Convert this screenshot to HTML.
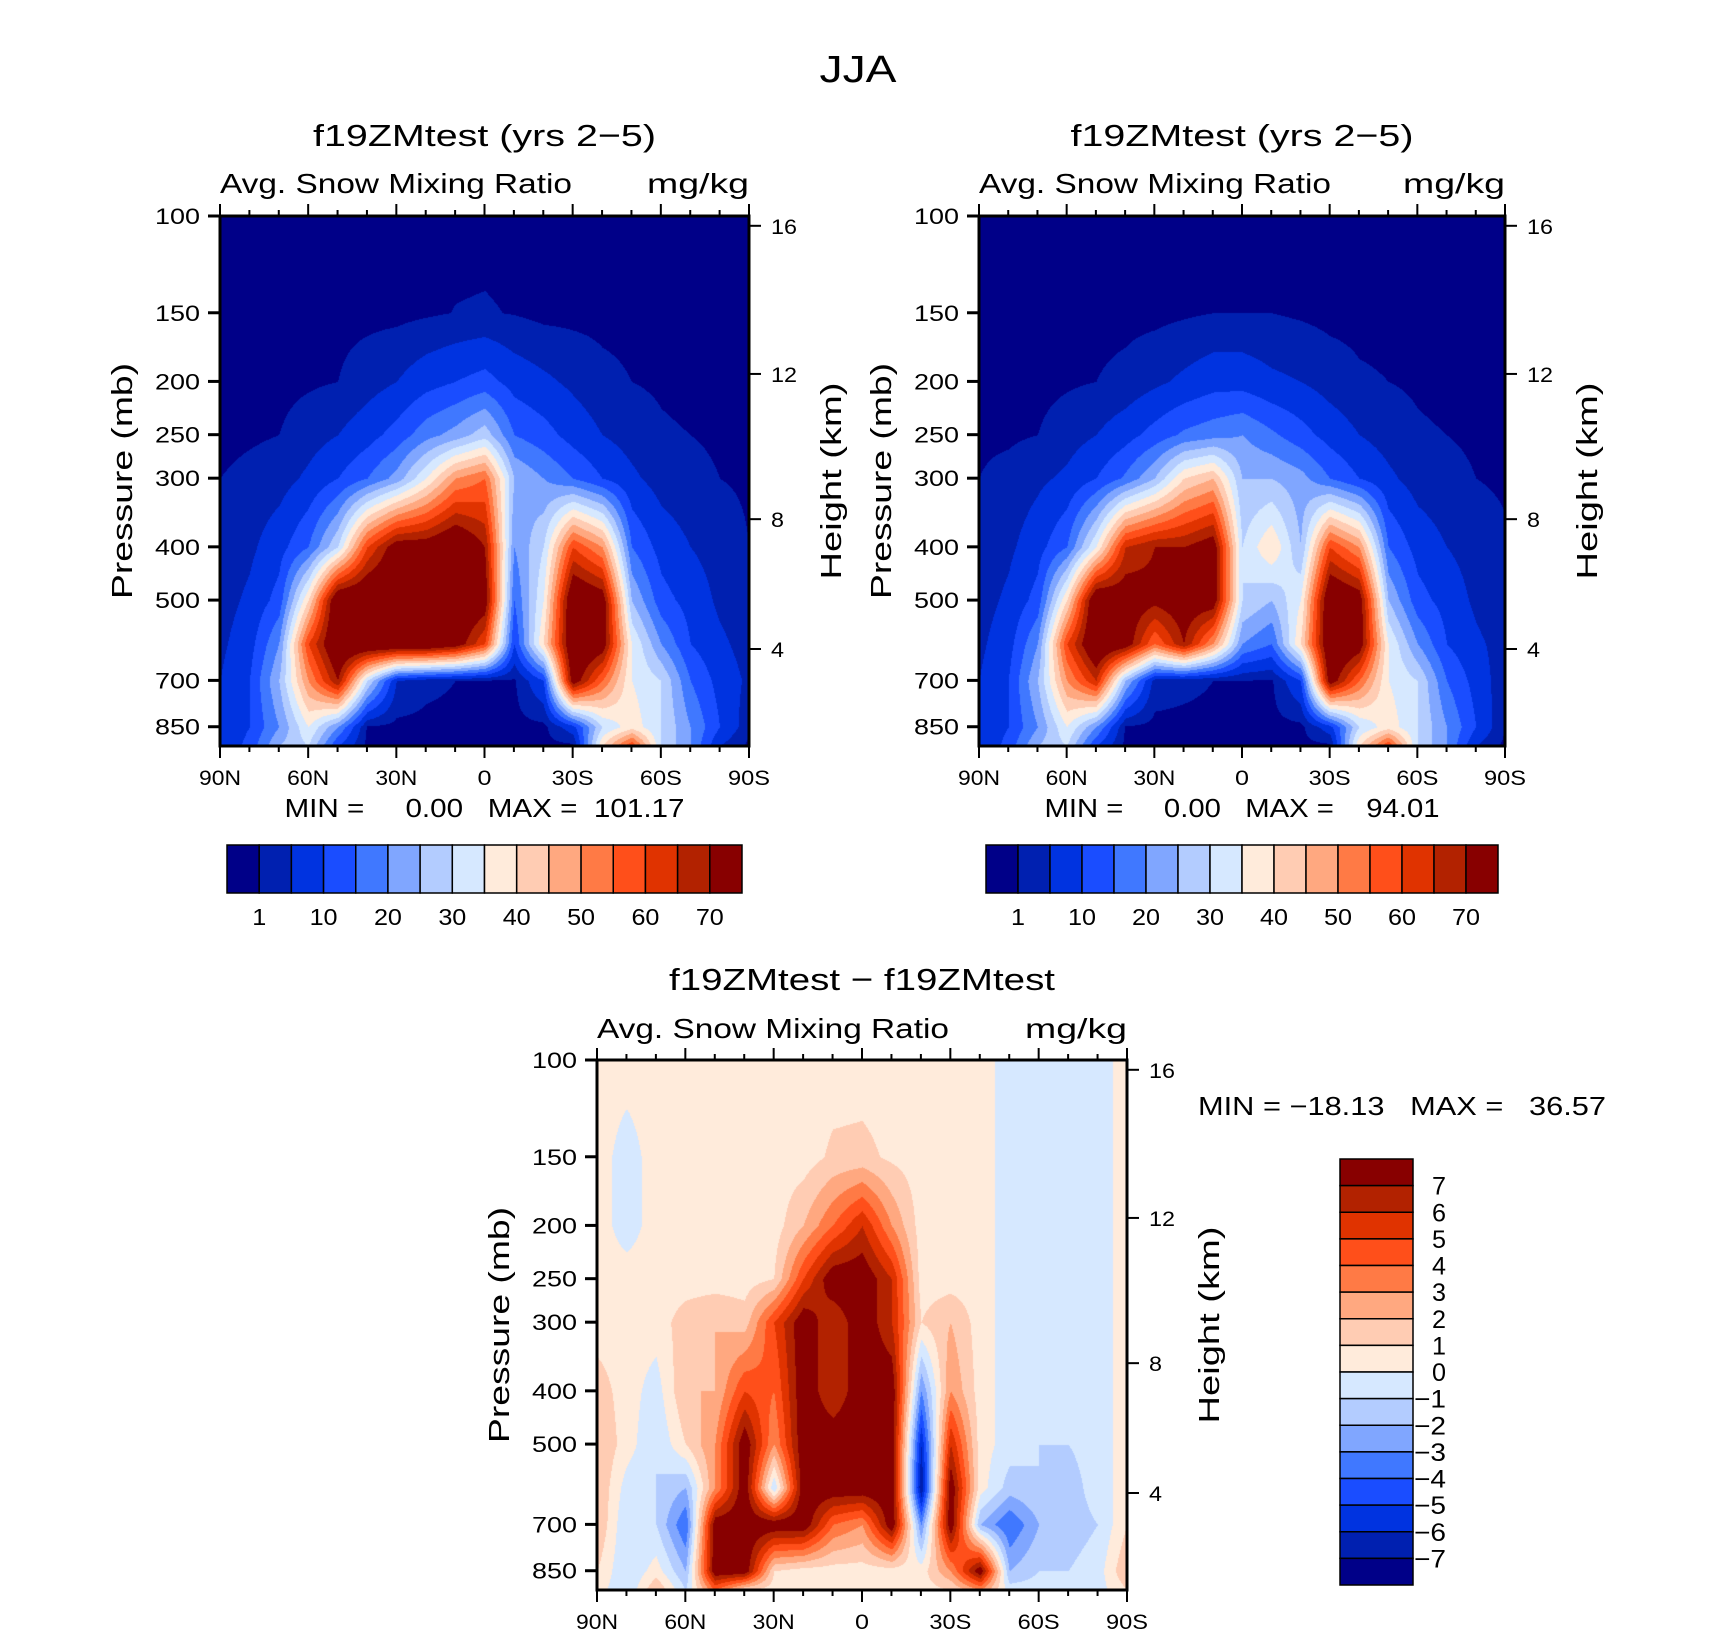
<!DOCTYPE html>
<html><head><meta charset="utf-8">
<style>
html,body{margin:0;padding:0;background:#fff;}
#root{position:relative;width:1710px;height:1639px;overflow:hidden;font-family:"Liberation Sans",sans-serif;}
canvas{position:absolute;}
svg{position:absolute;left:0;top:0;}
text{white-space:pre;}
</style></head><body>
<div id="root">
<canvas id="c1"></canvas>
<canvas id="c2"></canvas>
<canvas id="c3"></canvas>
<svg id="ov" width="1710" height="1639"></svg>
</div>
<script>
// ---- data ----
const lats = [90,80,70,60,50,40,30,20,10,0,-10,-20,-30,-40,-50,-60,-70,-80,-90];
const levels = [100,150,200,250,300,400,500,600,700,850,920];
const field1 = [
[0,0,0,0,0,0,0,0,0,0,0,0,0,0,0,0,0,0,0],
[0,0,0,0,0,0,0,0.5,1.1,1.3,0.8,0,0,0,0,0,0,0,0],
[0,0,0,0.5,1,3,5,8,10,12,8,6,4,2,1,0.5,0,0,0],
[0,0.5,1,3,5,8,12,18,22,28,15,12,8,5,3,1.5,1,0.5,0.3],
[1,2,3,6,10,15,22,35,50,55,25,20,15,10,6,3,2,1,0.5],
[2,4,8,15,30,60,75,75,80,70,20,30,60,50,15,8,5,3,1],
[3,6,12,40,80,80,80,80,80,75,15,35,80,75,25,12,8,4,2],
[4,8,20,60,80,80,80,80,75,60,10,40,80,75,35,20,10,6,3],
[5,10,25,50,70,30,5,2,1,0.5,0.5,10,75,55,35,30,15,8,4],
[5,10,20,35,20,0.5,0,0,0,0,0,0,8,30,38,30,20,10,2],
[5,12,25,30,10,0,0,0,0,0,0,0,0,40,60,30,20,5,0]];
const field2 = [
[0,0,0,0,0,0,0,0,0,0,0,0,0,0,0,0,0,0,0],
[0,0,0,0,0,0,0,0.5,1,1,1,0.5,0,0,0,0,0,0,0],
[0,0,0,0.5,1,2,4,6,8,8,6,5,3,1.5,1,0.5,0,0,0],
[0.5,0.5,1,3,5,8,12,16,18,20,16,12,8,5,3,1.5,1,0.5,0.3],
[1,2,4,6,10,16,25,40,45,25,25,22,15,10,6,3,2,1,0.5],
[2,4,8,15,35,65,70,70,75,30,40,25,60,50,15,8,5,3,1.5],
[3,6,12,40,80,75,72,75,75,30,25,35,80,75,25,12,8,4,1.5],
[4,8,20,60,80,75,55,70,50,20,15,40,80,75,35,20,10,6,3],
[5,10,25,50,65,25,3,2,1,1,0.5,10,75,55,35,30,15,8,2],
[5,10,20,35,20,0.5,0,0,0,0,0,0,8,30,38,30,20,10,1],
[5,12,25,30,10,0,0,0,0,0,0,0,0,40,60,30,20,5,0]];
const field3 = [
[0.5,0.5,0.5,0.5,0.5,0.5,0.5,0.5,0.5,0.5,0.5,0.5,0.5,0.5,-0.5,-0.5,-0.5,-0.5,0.5],
[0.5,-0.5,0.5,0.5,0.5,0.5,0.5,0.5,1.2,1.3,0.8,0.5,0.5,0.5,-0.5,-0.5,-0.5,-0.5,0.5],
[0.5,-0.5,0.5,0.5,0.5,0.5,0.5,2,4,6,3,0.5,0.5,0.5,-0.5,-0.5,-0.5,-0.5,0.5],
[0.5,0.5,0.5,0.5,0.5,0.5,1,5,8,8,6,0.5,0.5,0.5,-0.5,-0.5,-0.5,-0.5,0.5],
[0.5,0.5,0.5,1.5,2,1.5,5,8,6,8,6,1,2,0.5,-0.5,-0.5,-0.5,-0.5,0.5],
[1.5,0.5,-0.5,2,2,5,4,8,6,8,8,-3,3,0.5,-0.5,-0.5,-0.5,-0.5,0.5],
[2,0.5,-1,1,3,8,3,8,8,8,8,-6,6,0.5,-0.5,-1,-1,-0.5,0.5],
[2,-0.5,-1,-2,3,8,-1,8,8,8,8,-7,8,0.5,-1.5,-1,-1.5,-0.5,0.5],
[2,-1,-1,-4,8,8,8,8,4,3,8,-3,8,-2,-4,-2,-1.5,-1,1],
[1,-1,0.5,-2,8,8,1,0.5,0.5,0.5,0.5,0.5,3,8,-2,-1,-1,-0.5,2],
[0.5,-1,2,-1,4,1,0.5,0.5,0.5,0.5,0.5,0.5,1,3,-0.5,-0.5,-1,-0.5,1]];
const absLevels = [1,5,10,15,20,25,30,35,40,45,50,55,60,65,70];
const absLabels = ['1','10','20','30','40','50','60','70'];
const diffLevels = [-7,-6,-5,-4,-3,-2,-1,0,1,2,3,4,5,6,7];
const pTicks = [100,150,200,250,300,400,500,700,850];
const zTicks = [16,12,8,4];
const xTickLabels = ['90N','60N','30N','0','30S','60S','90S'];
const colors = ['#000088','#0020b0','#0033e0','#1a4dff','#4078ff','#80a6ff','#b3ccff','#d6e8ff','#ffebdb','#ffccb3','#ffa880','#ff7a45','#ff4f1a','#e03300','#b22200','#880000'];

// ---- geometry ----
const panels = [
 {cv:'c1',x0:220,x1:749,y0:216,y1:746,data:field1,lv:absLevels,mm:'MIN =     0.00   MAX =  101.17',mmLen:400,name:'control'},
 {cv:'c2',x0:979,x1:1505,y0:216,y1:746,data:field2,lv:absLevels,mm:'MIN =     0.00   MAX =    94.01',mmLen:395,name:'test'},
 {cv:'c3',x0:597,x1:1127,y0:1060,y1:1590,data:field3,lv:diffLevels,mm:null,name:'difference'}];
const K=240*530/533;
function yP(P,p){return P.y0+K*Math.log(p/100);}
const zFrac = {16:0.0185,12:0.298,8:0.572,4:0.817};
function yZ(P,z){return P.y0+zFrac[z]*(P.y1-P.y0);}
function xL(P,lat){return P.x0+(90-lat)/180*(P.x1-P.x0);}
function lvIdx(v,lv){let i=0;while(i<lv.length&&v>=lv[i])i++;return i;}
function sample(P,lat,p){
  let fi=(90-lat)/10; let i0=Math.min(17,Math.floor(fi)); let fx=fi-i0;
  let lp=Math.log(p); let j0=0;
  for(let j=0;j<levels.length-1;j++){if(lp>=Math.log(levels[j]))j0=j;}
  let fy=(lp-Math.log(levels[j0]))/(Math.log(levels[j0+1])-Math.log(levels[j0]));
  fy=Math.max(0,Math.min(1,fy));
  const d=P.data;
  const a=d[j0][i0]*(1-fx)+d[j0][i0+1]*fx;
  const b=d[j0+1][i0]*(1-fx)+d[j0+1][i0+1]*fx;
  return a*(1-fy)+b*fy;
}
function hex(c){return [parseInt(c.slice(1,3),16),parseInt(c.slice(3,5),16),parseInt(c.slice(5,7),16)];}
const rgb=colors.map(hex);
panels.forEach(P=>{
  const cv=document.getElementById(P.cv);
  const w=P.x1-P.x0,h=P.y1-P.y0;
  cv.width=w;cv.height=h;cv.style.left=P.x0+'px';cv.style.top=P.y0+'px';
  const ctx=cv.getContext('2d');const im=ctx.createImageData(w,h);
  for(let y=0;y<h;y++){const p=100*Math.exp(y/K);
    for(let x=0;x<w;x++){const lat=90-x/w*180;
      const c=rgb[lvIdx(sample(P,lat,p),P.lv)];const k=(y*w+x)*4;
      im.data[k]=c[0];im.data[k+1]=c[1];im.data[k+2]=c[2];im.data[k+3]=255;}}
  ctx.putImageData(im,0,0);
});

// ---- overlay ----
const ov=document.getElementById('ov');const NS='http://www.w3.org/2000/svg';
function el(tag,attrs,txt){const e=document.createElementNS(NS,tag);for(const k in attrs)e.setAttribute(k,attrs[k]);if(txt!=null)e.textContent=txt;ov.appendChild(e);return e;}
function txt(x,y,s,size,anchor,name,len,rot){const a={x:x,y:y,'font-size':size,'text-anchor':anchor||'middle','font-family':'Liberation Sans, sans-serif',fill:'#000'};
 if(len){a.textLength=len;a.lengthAdjust='spacingAndGlyphs';}
 if(rot)a.transform='rotate(-90 '+x+' '+y+')';const e=el('text',a,s);
 
 return e;}
function line(x1,y1,x2,y2,w,name){const e=el('line',{x1:x1,y1:y1,x2:x2,y2:y2,stroke:'#000','stroke-width':w});
 
 return e;}

txt(858,82,'JJA',38,'middle','figure-title',77);
panels.forEach((P,pi)=>{
  const cx=(P.x0+P.x1)/2;
  const r=el('rect',{x:P.x0,y:P.y0,width:P.x1-P.x0,height:P.y1-P.y0,fill:'none',stroke:'#000','stroke-width':3});
  
  
  if(pi<2){txt(cx,146,'f19ZMtest (yrs 2\u22125)',31,'middle',P.name+'-title',343);
    txt(P.x0,193,'Avg. Snow Mixing Ratio',28,'start',P.name+'-variable-label',352);
    txt(P.x1,193,'mg/kg',28,'end',P.name+'-units-label',102);}
  else{txt(cx,990,'f19ZMtest \u2212 f19ZMtest',31,'middle','difference-title',386);
    txt(P.x0,1038,'Avg. Snow Mixing Ratio',28,'start','difference-variable-label',352);
    txt(P.x1,1038,'mg/kg',28,'end','difference-units-label',102);}
  for(let lat=90;lat>=-90;lat-=10){const x=xL(P,lat);const maj=lat%30===0;const L=maj?12:6;
    line(x,P.y0,x,P.y0-L,2,'top-x-tick');line(x,P.y1,x,P.y1+L,2,'bottom-x-tick');}
  xTickLabels.forEach((s,i)=>txt(xL(P,90-30*i),P.y1+39,s,21,'middle','x-tick-label',s.length*14));
  pTicks.forEach(p=>{const y=yP(P,p);line(P.x0,y,P.x0-12,y,3,'pressure-tick');txt(P.x0-20,y+8,String(p),22,'end','pressure-tick-label',String(p).length*15);});
  zTicks.forEach(z=>{const y=yZ(P,z);line(P.x1,y,P.x1+12,y,2,'height-tick');txt(P.x1+22,y+8,String(z),21,'start','height-tick-label',String(z).length*13);});
  const my=(P.y0+P.y1)/2;
  txt(P.x0-88,my,'Pressure (mb)',29,'middle',P.name+'-y-axis-title',236,true);
  txt(P.x1+92,my,'Height (km)',29,'middle',P.name+'-right-axis-title',197,true);
  if(P.mm){txt(cx,817,P.mm,26,'middle',P.name+'-min-max',P.mmLen);
    const bx0=P.x0+7,bx1=P.x1-7,by0=845,by1=893,bw=(bx1-bx0)/colors.length;
    colors.forEach((c,i)=>{const b=el('rect',{x:bx0+i*bw,y:by0,width:bw,height:by1-by0,fill:c,stroke:'#000','stroke-width':1.5});
      
      });
    absLabels.forEach((s,i)=>{const bi=2*i;txt(bx0+(bi+1)*bw,925,s,23,'middle','colorbar-label',s.length*14);});
  }
});
txt(1198,1115,'MIN = \u221218.13   MAX =   36.57',26,'start','difference-min-max',408);
{const bx=1340,bw=73,by0=1159,by1=1585,bh=(by1-by0)/colors.length;
 colors.slice().reverse().forEach((c,i)=>{const b=el('rect',{x:bx,y:by0+i*bh,width:bw,height:bh,fill:c,stroke:'#000','stroke-width':1.5});
   
   });
 diffLevels.slice().reverse().forEach((v,i)=>{const s=v<0?'\u2212'+(-v):String(v);txt(1446,by0+(i+1)*bh+9,s,25,'end','diff-colorbar-label',v<0?32:14);});
}
</script>
</body></html>
